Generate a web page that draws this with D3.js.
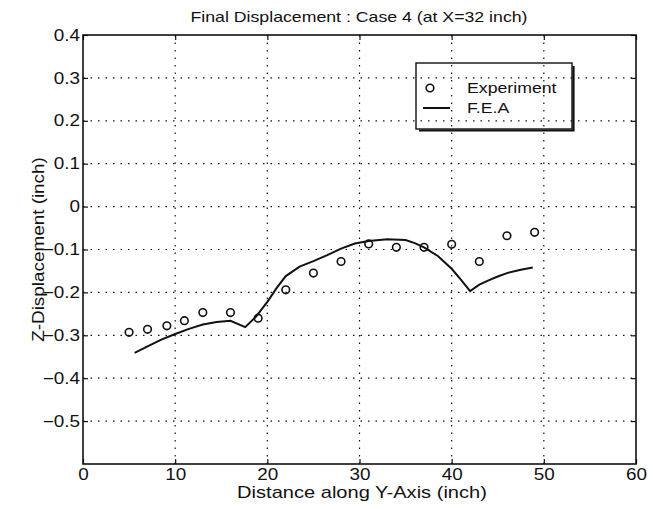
<!DOCTYPE html>
<html>
<head>
<meta charset="utf-8">
<script src="https://cdn.jsdelivr.net/npm/d3@7"></script>
<style>
  html, body { margin: 0; padding: 0; background: #fff; }
  svg { display: block; font-family: "Liberation Sans", Arial, sans-serif; }
</style>
</head>
<body>
<svg id="chart" width="653" height="509"></svg>
<script>
// ---- data ----
const titleText = "Final Displacement : Case 4 (at X=32 inch)";
const xLabel = "Distance along Y-Axis (inch)";
const yLabel = "Z-Displacement (inch)";
const xTicks = [0, 10, 20, 30, 40, 50, 60];
const yTicks = [0.4, 0.3, 0.2, 0.1, 0, -0.1, -0.2, -0.3, -0.4, -0.5];
const legendNames = ["Experiment", "F.E.A"];

const expX = [5, 7, 9.1, 11, 13, 16, 19, 22, 25, 28, 31, 34, 37, 40, 43, 46, 49];
const expY = [-0.293, -0.286, -0.278, -0.266, -0.247, -0.247, -0.260, -0.194, -0.155, -0.128,
              -0.087, -0.095, -0.095, -0.088, -0.128, -0.068, -0.060];

const feaX = [5.6, 7, 8.5, 10, 11.5, 13, 14.5, 16, 17.6, 18.8, 20, 21, 22, 23.5, 25, 26.5, 28,
              29.5, 31, 33, 35, 36, 37, 38.5, 40, 41, 42, 43, 44, 45, 46, 47.5, 48.8];
const feaY = [-0.341, -0.326, -0.310, -0.297, -0.285, -0.275, -0.269, -0.266, -0.281, -0.256,
              -0.222, -0.190, -0.162, -0.140, -0.127, -0.113, -0.098, -0.086, -0.080, -0.076,
              -0.078, -0.085, -0.095, -0.115, -0.145, -0.170, -0.197, -0.182, -0.172, -0.163,
              -0.155, -0.147, -0.142];

// ---- layout ----
const L = 83, T = 35, R = 636, B = 464;
const svg = d3.select("#chart");
const x = d3.scaleLinear().domain([0, 60]).range([L, R]);
const y = d3.scaleLinear().domain([-0.6, 0.4]).range([B, T]);
const ink = "#111";

// grid
const grid = svg.append("g").attr("stroke", ink).attr("stroke-width", 1.2)
  .attr("stroke-dasharray", "1.5,6");
grid.selectAll("line.gx").data(xTicks.filter(d => d > 0 && d < 60)).join("line")
  .attr("class", "gx")
  .attr("x1", d => x(d)).attr("x2", d => x(d)).attr("y1", T).attr("y2", B);
grid.selectAll("line.gy").data(yTicks.filter(d => d < 0.4)).join("line")
  .attr("class", "gy")
  .attr("y1", d => y(d)).attr("y2", d => y(d)).attr("x1", L).attr("x2", R);

// axes
const fmt = d => d === 0 ? "0" : d3.format(".1f")(d);
const xAxisB = d3.axisBottom(x).tickValues(xTicks).tickSize(-5).tickPadding(5).tickFormat(d3.format("d"));
const xAxisT = d3.axisTop(x).tickValues(xTicks).tickSize(-5).tickFormat("");
const yAxisL = d3.axisLeft(y).tickValues(yTicks).tickSize(-5).tickPadding(3).tickFormat(fmt);
const yAxisR = d3.axisRight(y).tickValues(yTicks).tickSize(-5).tickFormat("");

function styleAxis(g) {
  g.select(".domain").remove();
  g.selectAll(".tick line").attr("stroke", ink).attr("stroke-width", 1.2);
  g.selectAll(".tick text").attr("fill", ink).attr("font-size", 16)
    .attr("class", "stretch")
    .attr("font-family", "Liberation Sans, Arial, sans-serif");
}
svg.append("g").attr("transform", `translate(0,${B})`).call(xAxisB).call(styleAxis);
svg.append("g").attr("transform", `translate(0,${T})`).call(xAxisT).call(styleAxis);
svg.append("g").attr("transform", `translate(${L},0)`).call(yAxisL).call(styleAxis);
svg.append("g").attr("transform", `translate(${R},0)`).call(yAxisR).call(styleAxis);

// box
svg.append("rect").attr("x", L).attr("y", T).attr("width", R - L).attr("height", B - T)
  .attr("fill", "none").attr("stroke", ink).attr("stroke-width", 1.6);

// FEA line
const line = d3.line().x((d, i) => x(feaX[i])).y((d, i) => y(feaY[i])).curve(d3.curveLinear);
svg.append("path").datum(feaX).attr("d", line)
  .attr("fill", "none").attr("stroke", ink).attr("stroke-width", 2);

// experiment markers
svg.append("g").selectAll("circle").data(expX).join("circle")
  .attr("cx", d => x(d)).attr("cy", (d, i) => y(expY[i])).attr("r", 3.8)
  .attr("fill", "none").attr("stroke", ink).attr("stroke-width", 1.6);

// legend
const lg = svg.append("g");
lg.append("rect").attr("x", 416).attr("y", 63).attr("width", 156).attr("height", 66)
  .attr("fill", "none").attr("stroke", ink).attr("stroke-width", 1.4);
lg.append("path").attr("d", "M419,130.5 H573.5 V66").attr("fill", "none")
  .attr("stroke", ink).attr("stroke-width", 2.2);
lg.append("circle").attr("cx", 430).attr("cy", 88).attr("r", 3.8)
  .attr("fill", "none").attr("stroke", ink).attr("stroke-width", 1.6);
lg.append("line").attr("x1", 423).attr("x2", 450).attr("y1", 108).attr("y2", 108)
  .attr("stroke", ink).attr("stroke-width", 2);
lg.selectAll("text").data(legendNames).join("text")
  .attr("class", "stretch")
  .attr("x", 467).attr("y", (d, i) => 93 + i * 20)
  .attr("font-size", 15).attr("fill", ink).text(d => d);

// titles
svg.append("text").attr("class", "stretch").attr("x", 359).attr("y", 22).attr("text-anchor", "middle")
  .attr("font-size", 15).attr("fill", ink).text(titleText);
svg.append("text").attr("class", "stretch").attr("x", 362).attr("y", 498).attr("text-anchor", "middle")
  .attr("font-size", 17).attr("fill", ink).text(xLabel);
svg.append("text").attr("class", "stretch").attr("transform", `translate(44,${(T + B) / 2}) rotate(-90)`)
  .attr("text-anchor", "middle").attr("font-size", 16).attr("fill", ink).text(yLabel);

// the scanned reference lettering is wider than the font: widen glyphs a little
svg.selectAll("text.stretch").each(function () {
  const w = this.getComputedTextLength();
  d3.select(this).attr("textLength", w * 1.18).attr("lengthAdjust", "spacingAndGlyphs");
});
</script>
</body>
</html>
